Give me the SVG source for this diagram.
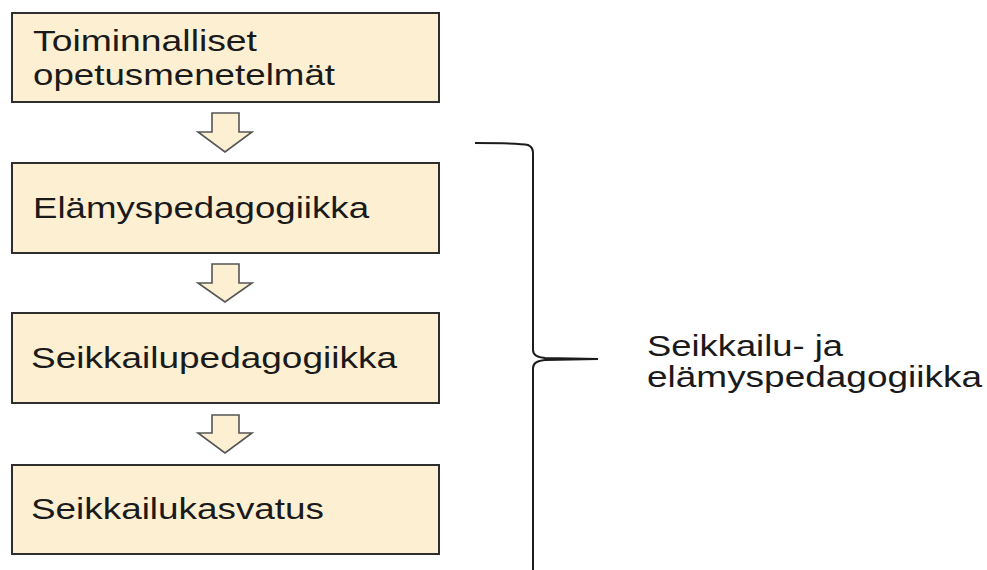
<svg xmlns="http://www.w3.org/2000/svg" width="987" height="570" viewBox="0 0 987 570">
  <style>
    .box { fill: #fdf0d2; stroke: #2e2e2e; stroke-width: 2; }
    .lbl { font-family: "Liberation Sans", Arial, sans-serif; font-size: 29px; fill: #1a1a1a; }
    .arrow { fill: #fdf0d2; stroke: #555; stroke-width: 1.6; stroke-linejoin: miter; }
    .brace { fill: none; stroke: #1c1c1c; stroke-width: 2; }
  </style>
  <rect width="987" height="570" fill="#ffffff"/>

  <g id="node-toiminnalliset">
    <rect class="box" x="12" y="13" width="427" height="89"/>
    <text class="lbl" x="33" y="51" textLength="224" lengthAdjust="spacingAndGlyphs">Toiminnalliset</text>
    <text class="lbl" x="33" y="85" textLength="302" lengthAdjust="spacingAndGlyphs">opetusmenetelmät</text>
  </g>

  <g id="node-elamyspedagogiikka">
    <rect class="box" x="12" y="163" width="427" height="90"/>
    <text class="lbl" x="33" y="218" textLength="336" lengthAdjust="spacingAndGlyphs">Elämyspedagogiikka</text>
  </g>

  <g id="node-seikkailupedagogiikka">
    <rect class="box" x="12" y="313" width="427" height="90"/>
    <text class="lbl" x="31" y="368" textLength="366" lengthAdjust="spacingAndGlyphs">Seikkailupedagogiikka</text>
  </g>

  <g id="node-seikkailukasvatus">
    <rect class="box" x="12" y="465" width="427" height="89"/>
    <text class="lbl" x="31" y="519" textLength="293" lengthAdjust="spacingAndGlyphs">Seikkailukasvatus</text>
  </g>

  <g id="connectors">
    <polygon class="arrow" points="212,113 239,113 239,132 252,132 225,152 198,132 212,132"/>
    <polygon class="arrow" points="212,264 239,264 239,283 252,283 225,302 198,283 212,283"/>
    <polygon class="arrow" points="212,415 239,415 239,433 252,433 225,453 198,433 212,433"/>
  </g>

  <g id="group-brace">
    <path class="brace" d="M475,143 C500,143 520,143 528,145 Q533,147 533,153 L533,350 Q533,357 545,358 L598,359 L545,360 Q533,361 533,368 L533,570"/>
    <text class="lbl" x="647" y="356" textLength="196" lengthAdjust="spacingAndGlyphs">Seikkailu- ja</text>
    <text class="lbl" x="647" y="387" textLength="335" lengthAdjust="spacingAndGlyphs">elämyspedagogiikka</text>
  </g>
</svg>
